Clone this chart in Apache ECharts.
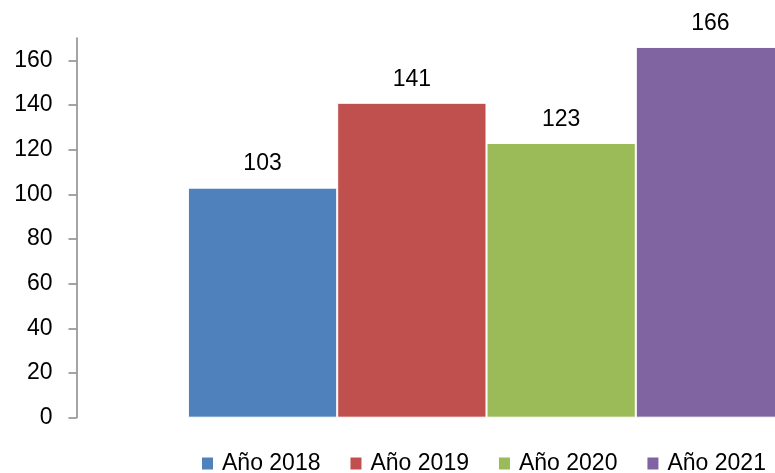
<!DOCTYPE html>
<html><head><meta charset="utf-8">
<script src="https://cdn.jsdelivr.net/npm/echarts@6/dist/echarts.min.js"></script>
<style>html,body{margin:0;padding:0;background:#fff}#c{width:775px;height:473px}</style>
</head><body><div id="c"></div>
<script>
const categories = ['Total'];
const seriesNames = ['Año 2018', 'Año 2019', 'Año 2020', 'Año 2021'];
const seriesValues = [[103], [141], [123], [166]];
const yTicks = [0, 20, 40, 60, 80, 100, 120, 140, 160];
const colors = ['#4F81BD', '#C0504D', '#9BBB59', '#8064A2'];

const font = '"Liberation Sans", Arial, sans-serif';
const chart = echarts.init(document.getElementById('c'));
chart.setOption({
  animation: false,
  textStyle: { fontFamily: font },
  grid: { left: 76.5, right: -121.5, top: 38, bottom: 55.3, containLabel: false, outerBoundsMode: 'none' },
  legend: {
    data: seriesNames, left: 200, top: 452, padding: 0,
    itemWidth: 13, itemHeight: 14, itemGap: 28,
    icon: 'rect',
    textStyle: { fontSize: 23, color: '#000', fontFamily: font, padding: [0, 0, 0, 3] }
  },
  xAxis: {
    type: 'category', data: categories,
    axisLine: { show: false }, axisTick: { show: false }, axisLabel: { show: false }
  },
  yAxis: {
    type: 'value', min: 0, max: 170, interval: 20,
    axisLine: { show: true, lineStyle: { color: '#868686', width: 1.5 } },
    axisTick: { show: true, length: 8, customValues: yTicks, lineStyle: { color: '#868686', width: 1.5 } },
    axisLabel: { customValues: yTicks, margin: 24, fontSize: 23, color: '#000', fontFamily: font },
    splitLine: { show: false }
  },
  series: seriesNames.map((n, i) => ({
    name: n, type: 'bar', data: seriesValues[i],
    barWidth: 149.3, barGap: '0%',
    itemStyle: { color: colors[i], borderColor: '#fff', borderWidth: 1 },
    label: { show: true, position: 'top', distance: 12, fontSize: 23, color: '#000', fontFamily: font }
  }))
});
</script></body></html>
